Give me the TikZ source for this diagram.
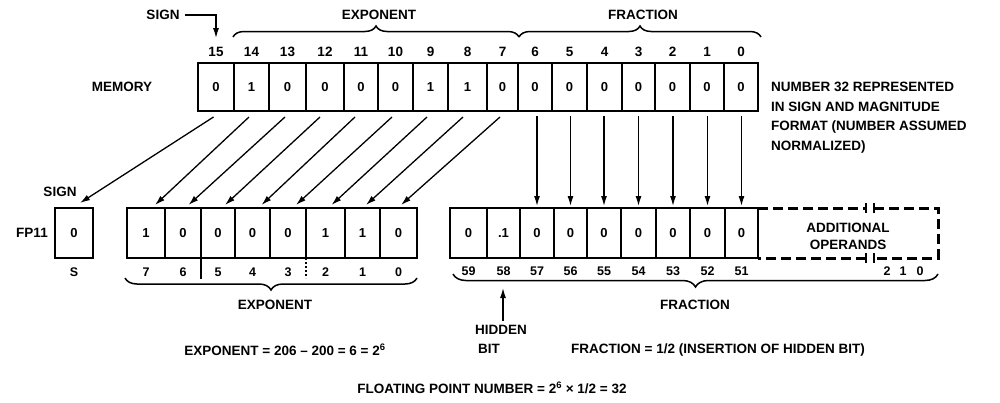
\documentclass[tikz,border=0pt]{standalone}
\usepackage{fontspec}
\setmainfont{Liberation Sans}
\usetikzlibrary{arrows.meta,decorations.pathreplacing,calc}

\begin{document}
\begin{tikzpicture}[x=1pt,y=-1pt,
  txt/.style={font=\fontsize{13.5}{16}\selectfont\bfseries, inner sep=0pt},
  small/.style={font=\fontsize{12.5}{15}\selectfont\bfseries, inner sep=0pt},
  cell/.style={draw, line width=1.6pt, inner sep=0pt, outer sep=0pt,
    font=\fontsize{13}{15}\selectfont\bfseries},
  frame/.style={line width=2.9pt},
  arr/.style={line width=1.3pt, -{Latex[length=10pt,width=6pt]}},
  curly/.style={line width=1.5pt, decorate, decoration={brace, amplitude=#1}},
  dashline/.style={line width=3pt, dash pattern=on 10pt off 5pt},
]
\fill[white] (0,0) rectangle (1000,402);
\useasboundingbox (0,0) rectangle (1000,402);

% 16-bit memory word
\foreach \b/\v/\l/\r in {15/0/198/234,14/1/234/269,13/0/269/306,12/0/306/344,
    11/0/344/378,10/0/378/413,9/1/413/448,8/1/448/487,7/0/487/518,6/0/518/552,
    5/0/552/587,4/0/587/622,3/0/622/655,2/0/655/690,1/0/690/724,0/0/724/758}{
  \node[cell, minimum width={\r-\l}, minimum height=48] (m\b) at ({(\l+\r)/2},87) {\v};
  \node[txt] (mn\b) at ({(\l+\r)/2},52) {\b};
}
\draw[frame] (m15.north west) rectangle (m0.south east);
\node[txt] (memlbl) at (122,87) {MEMORY};

% field braces above the memory word
\node[txt] (sgntop) at (163,15) {SIGN};
\draw[arr, shorten <=5pt, shorten >=9pt] (sgntop.east) -| (mn15.north);
\draw[curly=11pt] (233,37) -- (519,37);
\draw[curly=11pt] (519,37) -- (761,37);
\node[txt] (exptop) at (379,15) {EXPONENT};
\node[txt] (fractop) at (643,15) {FRACTION};

% note on the right
\node[txt, font=\fontsize{13.5}{19.5}\selectfont\bfseries, align=left, anchor=north west]
  (note) at (771,82) {NUMBER 32 REPRESENTED\\IN SIGN AND MAGNITUDE\\FORMAT (NUMBER ASSUMED\\NORMALIZED)};

% FP11 register: sign
\node[txt] (fplbl) at (32,233) {FP11};
\node[txt] (sgnlow) at (60,192) {SIGN};
\node[cell, minimum width=38, minimum height=50] (s) at (74,233) {0};
\draw[frame] (s.north west) rectangle (s.south east);
\node[small] (slbl) at (74,272) {S};

% FP11 register: exponent
\foreach \b/\v/\l/\r in {7/1/127/165,6/0/165/201,5/0/201/235,4/0/235/270,
    3/0/270/306,2/1/306/345,1/1/345/380,0/0/380/417}{
  \node[cell, minimum width={\r-\l}, minimum height=50] (e\b) at ({(\l+\r)/2},233) {\v};
  \node[small] (en\b) at ({(\l+\r)/2},272) {\b};
}
\draw[frame] (e7.north west) rectangle (e0.south east);
\draw[line width=1.5pt] (e6.south east) -- ++(0,21);
\draw[line width=1.3pt, dash pattern=on 2pt off 2pt] (e3.south east) -- ++(0,20);

% FP11 register: fraction
\foreach \b/\v/\l/\r in {59/0/450/487,58/.1/487/520,57/0/520/554,56/0/554/587,
    55/0/587/621,54/0/621/656,53/0/656/690,52/0/690/725,51/0/725/758}{
  \node[cell, minimum width={\r-\l}, minimum height=50] (f\b) at ({(\l+\r)/2},233) {\v};
  \node[small] (fn\b) at ({(\l+\r)/2},271) {\b};
}
\draw[frame] (f59.north west) rectangle (f51.south east);

% additional operand bits (dashed, with break marks)
\draw[dashline] (f51.north east) -- (866,208);
\draw[dashline] (874,208) -- (938,208) -- (938,258) -- (874,258);
\draw[dashline] (866,258) -- (f51.south east);
\foreach \x in {866,874}{
  \draw[line width=1.6pt] (\x,203) -- (\x,213);
  \draw[line width=1.6pt] (\x,253) -- (\x,263);
}
\node[txt, font=\fontsize{13.5}{17}\selectfont\bfseries, align=center] (addl) at (848,236) {ADDITIONAL\\OPERANDS};
\node[small] (x2) at (887,271) {2};
\node[small] (x1) at (903,271) {1};
\node[small] (x0) at (920,271) {0};

% braces under the register
\draw[curly=12pt] (417,278) -- (125,278);
\draw[curly=13pt] (938,274) -- (453,274);
\node[txt] (expbot) at (275,305) {EXPONENT};
\node[txt] (fracbot) at (695,305) {FRACTION};

% hidden bit
\node[txt] (hid) at (501,330) {HIDDEN};
\node[txt] (hbit) at (489,349) {BIT};
\coordinate (hbtip) at (503,288);
\draw[arr, shorten <=4pt] (hid.north -| hbtip) -- (hbtip);

% bit transfers from memory to the register
\draw[arr] ($(m15.south)+(-2.5,6)$) -- ($(s.north)+(6,-5)$);
\foreach \m/\e/\a/\z in {14/7/-2.5/9,13/6/-2.5/5.5,12/5/-5/7,11/4/-6/9,
    10/3/-3.5/8,9/2/-3.5/6,8/1/-4.5/3.5,7/0/-2.5/2.5}{
  \draw[arr] ($(m\m.south)+(\a,6)$) -- ($(e\e.north)+(\z,-3)$);
}
\foreach \m/\f in {6/57,5/56,4/55,3/54,2/53,1/52,0/51}{
  \draw[arr, shorten <=5pt, shorten >=2pt] (f\f.north |- m\m.south) -- (f\f.north);
}

% results
\node[txt] (expeq) at (285,350) {EXPONENT = 206 – 200 = 6 = 2\textsuperscript{6}};
\node[txt] (fraceq) at (718,350) {FRACTION = 1/2 (INSERTION OF HIDDEN BIT)};
\node[txt] (fpeq) at (492,388) {FLOATING POINT NUMBER = 2\textsuperscript{6} × 1/2 = 32};
\end{tikzpicture}
\end{document}
